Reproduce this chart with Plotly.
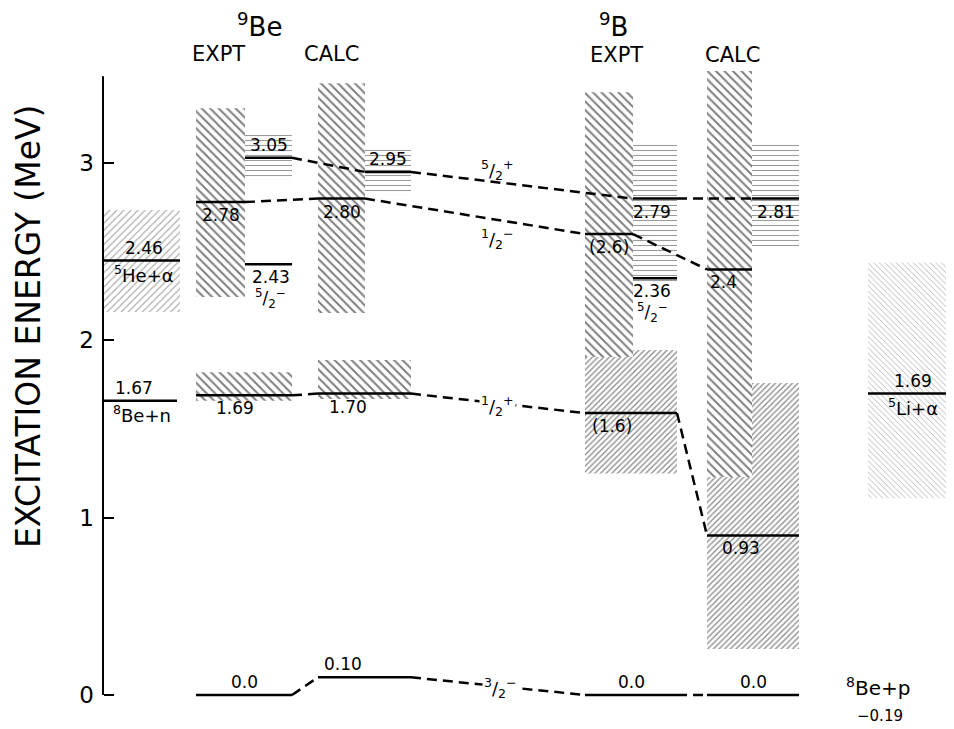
import plotly.graph_objects as go

# ---------------- data ----------------
# Level energies (MeV, as drawn), printed labels and J^pi for each column
be9_expt_E = [0.0, 1.69, 2.43, 2.78, 3.03]
be9_expt_lab = ["0.0", "1.69", "2.43", "2.78", "3.05"]
be9_expt_jp = ["3/2-", "1/2+", "5/2-", "1/2-", "5/2+"]

be9_calc_E = [0.10, 1.70, 2.80, 2.95]
be9_calc_lab = ["0.10", "1.70", "2.80", "2.95"]
be9_calc_jp = ["3/2-", "1/2+", "1/2-", "5/2+"]

b9_expt_E = [0.0, 1.59, 2.35, 2.60, 2.80]
b9_expt_lab = ["0.0", "(1.6)", "2.36", "(2.6)", "2.79"]
b9_expt_jp = ["3/2-", "1/2+", "5/2-", "1/2-", "5/2+"]

b9_calc_E = [0.0, 0.90, 2.40, 2.80]
b9_calc_lab = ["0.0", "0.93", "2.4", "2.81"]
b9_calc_jp = ["3/2-", "1/2+", "1/2-", "5/2+"]

# Level widths (hatched bands), MeV
band_col = ["b9_expt", "b9_calc",
            "be9_expt", "be9_calc", "b9_expt", "b9_calc",
            "be9_expt", "be9_expt", "be9_calc", "be9_calc", "b9_expt", "b9_calc"]
band_jp = ["1/2+", "1/2+",
           "5/2+", "5/2+", "5/2+", "5/2+",
           "1/2+", "1/2-", "1/2+", "1/2-", "1/2-", "1/2-"]
band_lo = [1.25, 0.26, 2.905, 2.82, 2.33, 2.52, 1.66, 2.245, 1.67, 2.155, 1.906, 1.23]
band_hi = [1.946, 1.76, 3.17, 3.085, 3.11, 3.12, 1.82, 3.31, 1.89, 3.45, 3.40, 3.52]
band_kind = ["/", "/", "-", "-", "-", "-", "\\", "\\", "\\", "\\", "\\", "\\"]

# Thresholds
thr_key = ["5He", "8Ben", "5Li"]
thr_name = ["<sup>5</sup>He+α", "<sup>8</sup>Be+n", "<sup>5</sup>Li+α"]
thr_E = [2.45, 1.66, 1.70]
thr_lab = ["2.46", "1.67", "1.69"]
thr_band_lo = [2.16, None, 1.11]
thr_band_hi = [2.735, None, 2.44]
bep_name = "<sup>8</sup>Be+p"
bep_lab = "−0.19"

states = ["5/2+", "1/2-", "1/2+", "3/2-"]
state_txt = {"5/2+": "<sup>5</sup>/<sub>2</sub><sup>+</sup>",
             "5/2-": "<sup>5</sup>/<sub>2</sub><sup>−</sup>",
             "1/2-": "<sup>1</sup>/<sub>2</sub><sup>−</sup>",
             "1/2+": "<sup>1</sup>/<sub>2</sub><sup>+</sup>",
             "3/2-": "<sup>3</sup>/<sub>2</sub><sup>−</sup>"}

# ---------------- layout / style ----------------
REF_W, REF_H = 954, 729
OFF = 8                      # page body margin of the browser
W, H = REF_W - OFF, REF_H - OFF
PX_PER_MEV = 177.3
Y0_PX = 695
YMAX = (Y0_PX - OFF) / PX_PER_MEV
YMIN = -(REF_H - Y0_PX) / PX_PER_MEV
AXIS_X = 103

COLX = {"be9_expt": (196, 245, 292), "be9_calc": (318, 365, 411),
        "b9_expt": (585, 633, 677), "b9_calc": (707, 752, 799)}
ORDER = ["be9_expt", "be9_calc", "b9_expt", "b9_calc"]
SUB = {"3/2-": "F", "1/2+": "F", "1/2-": "L", "5/2+": "R", "5/2-": "R"}
THRX = {"5He": (103, 180), "8Ben": (103, 177), "5Li": (868, 960)}

LABEL_ABOVE = {("be9_expt", "5/2+"), ("be9_expt", "3/2-"), ("be9_calc", "3/2-"),
               ("be9_calc", "5/2+"), ("b9_expt", "3/2-"), ("b9_calc", "3/2-")}
LABEL_DX = {("be9_expt", "1/2+"): -9, ("be9_calc", "1/2+"): -17, ("be9_calc", "3/2-"): -22,
            ("b9_expt", "1/2+"): -19, ("b9_calc", "1/2+"): -12, ("b9_calc", "1/2-"): -6,
            ("b9_expt", "5/2+"): -3, ("b9_expt", "5/2-"): -3, ("be9_expt", "5/2-"): 2}
SPIN_POS = {"5/2+": (497, 2.96), "1/2-": (497, 2.57), "1/2+": (497, 1.63), "3/2-": (500, 0.04)}

HATCH = {"\\": dict(size=6, solidity=0.34, fgcolor="black"),
         "/": dict(size=4, solidity=0.32, fgcolor="#111111"),
         "-": dict(size=5, solidity=0.22, fgcolor="#3a3a3a")}
THR_HATCH = [dict(shape="/", size=5, solidity=0.22, fgcolor="#555"), None,
             dict(shape="\\", size=4, solidity=0.22, fgcolor="#666")]

FONT = "DejaVu Sans"
LVL_FONT = dict(family=FONT, size=17, color="black")

columns = {
    "be9_expt": (be9_expt_E, be9_expt_lab, be9_expt_jp),
    "be9_calc": (be9_calc_E, be9_calc_lab, be9_calc_jp),
    "b9_expt": (b9_expt_E, b9_expt_lab, b9_expt_jp),
    "b9_calc": (b9_calc_E, b9_calc_lab, b9_calc_jp),
}


def span(col, jp):
    l, m, r = COLX[col]
    s = SUB[jp]
    return (l, m) if s == "L" else (m, r) if s == "R" else (l, r)


def ppx(py):
    return 1 - (py - OFF) / H


fig = go.Figure()

# threshold bands
for i, k in enumerate(thr_key):
    if thr_band_lo[i] is None:
        continue
    x0, x1 = THRX[k]
    hs = THR_HATCH[i]
    fig.add_trace(go.Bar(x=[(x0 + x1) / 2], width=[x1 - x0], base=[thr_band_lo[i]],
                         y=[thr_band_hi[i] - thr_band_lo[i]],
                         marker=dict(color="white", line=dict(width=0), opacity=1,
                                     pattern=dict(fillmode="overlay", **hs)),
                         hoverinfo="skip", showlegend=False))

# level bands, grouped by hatch kind in drawing order
for kind in ["/", "-", "\\"]:
    xs, ws, bs, hs = [], [], [], []
    for c, jp, lo, hi, kd in zip(band_col, band_jp, band_lo, band_hi, band_kind):
        if kd != kind:
            continue
        a, b = span(c, jp)
        xs.append((a + b) / 2)
        ws.append(b - a)
        bs.append(lo)
        hs.append(hi - lo)
    fig.add_trace(go.Bar(x=xs, width=ws, base=bs, y=hs,
                         marker=dict(color="white", line=dict(width=0), opacity=1,
                                     pattern=dict(shape=kind, fillmode="overlay", **HATCH[kind])),
                         hoverinfo="skip", showlegend=False))

# connectors (dashed)
dx, dy = [], []
for st in states:
    for c1, c2 in zip(ORDER[:-1], ORDER[1:]):
        E1, _, J1 = columns[c1]
        E2, _, J2 = columns[c2]
        e1 = E1[J1.index(st)]
        e2 = E2[J2.index(st)]
        dx += [span(c1, st)[1], span(c2, st)[0], None]
        dy += [e1, e2, None]
fig.add_trace(go.Scatter(x=dx, y=dy, mode="lines", line=dict(color="black", width=2.5, dash="10px,6px"),
                         hoverinfo="skip", showlegend=False))

# level lines
lx, ly = [], []
for c in ORDER:
    E, lab, jp = columns[c]
    for e, j in zip(E, jp):
        a, b = span(c, j)
        lx += [a, b, None]
        ly += [e, e, None]
for i, k in enumerate(thr_key):
    a, b = THRX[k]
    lx += [a, b, None]
    ly += [thr_E[i], thr_E[i], None]
fig.add_trace(go.Scatter(x=lx, y=ly, mode="lines", line=dict(color="black", width=2.5),
                         hoverinfo="skip", showlegend=False))

ann = []
# level labels
for c in ORDER:
    E, lab, jp = columns[c]
    for e, t, j in zip(E, lab, jp):
        a, b = span(c, j)
        above = (c, j) in LABEL_ABOVE
        ann.append(dict(x=(a + b) / 2, y=e, xref="x", yref="y", text=t, showarrow=False,
                        yanchor="bottom" if above else "top", yshift=1 if above else -1,
                        xshift=LABEL_DX.get((c, j), 0), font=LVL_FONT))
        if j == "5/2-":
            ann.append(dict(x=(a + b) / 2, y=e, xref="x", yref="y", text=state_txt[j], showarrow=False,
                            yanchor="top", yshift=-20, xshift=LABEL_DX.get((c, j), 0), font=LVL_FONT))

# threshold labels
for i, k in enumerate(thr_key):
    a, b = THRX[k]
    b = min(b, REF_W)
    cx = (a + b) / 2 + 2
    ann.append(dict(x=cx + (-8 if k == "8Ben" else 0), y=thr_E[i], xref="x", yref="y", text=thr_lab[i],
                    showarrow=False, yanchor="bottom", yshift=1, font=LVL_FONT))
    ann.append(dict(x=cx, y=thr_E[i], xref="x", yref="y", text=thr_name[i],
                    showarrow=False, yanchor="top", yshift=1, font=dict(family=FONT, size=18, color="black")))

# 8Be + p threshold text
ann.append(dict(x=878, y=ppx(687), xref="x", yref="paper", yanchor="middle", text=bep_name, showarrow=False,
                font=dict(family=FONT, size=20, color="black")))
ann.append(dict(x=880, y=ppx(716), xref="x", yref="paper", yanchor="middle", text=bep_lab, showarrow=False,
                font=dict(family=FONT, size=15, color="black")))

# spin labels on connectors
for st in states:
    x, y = SPIN_POS[st]
    ann.append(dict(x=x, y=y, xref="x", yref="y", text=state_txt[st], showarrow=False,
                    bgcolor="white" if st in ("1/2+", "3/2-") else None,
                    font=dict(family=FONT, size=18, color="black")))

# headers
for txt, x, py, sz in [("<sup>9</sup>Be", 259, 25, 26), ("EXPT", 218, 54, 21), ("CALC", 331, 54, 21),
                       ("<sup>9</sup>B", 613, 25, 26), ("EXPT", 616, 55, 21), ("CALC", 732, 55, 21)]:
    ann.append(dict(x=x, y=ppx(py), xref="x", yref="paper", yanchor="middle", text=txt, showarrow=False,
                    font=dict(family=FONT, size=sz, color="black")))

# axis title
ann.append(dict(x=28, y=ppx(327), xref="x", yref="paper", yanchor="middle", text="EXCITATION ENERGY (MeV)",
                textangle=-90, showarrow=False, font=dict(family=FONT, size=33, color="black")))

fig.update_layout(
    width=W, height=H, margin=dict(l=0, r=0, t=0, b=0),
    paper_bgcolor="white", plot_bgcolor="white",
    barmode="overlay", showlegend=False,
    xaxis=dict(range=[OFF, REF_W], visible=False, fixedrange=True),
    yaxis=dict(range=[YMIN, YMAX], anchor="free", position=(AXIS_X - OFF) / W,
               tickvals=[0, 1, 2, 3], ticktext=["0", "1", "2", "3"],
               ticks="inside", ticklen=10, tickwidth=2, tickcolor="black",
               showline=False, showgrid=False, zeroline=False, ticklabelstandoff=9,
               tickfont=dict(family=FONT, size=23, color="black")),
    annotations=ann,
    shapes=[dict(type="line", xref="x", yref="y", x0=AXIS_X, x1=AXIS_X, y0=0, y1=3.49,
                 line=dict(color="black", width=2))],
)

fig.write_html("out.html")
